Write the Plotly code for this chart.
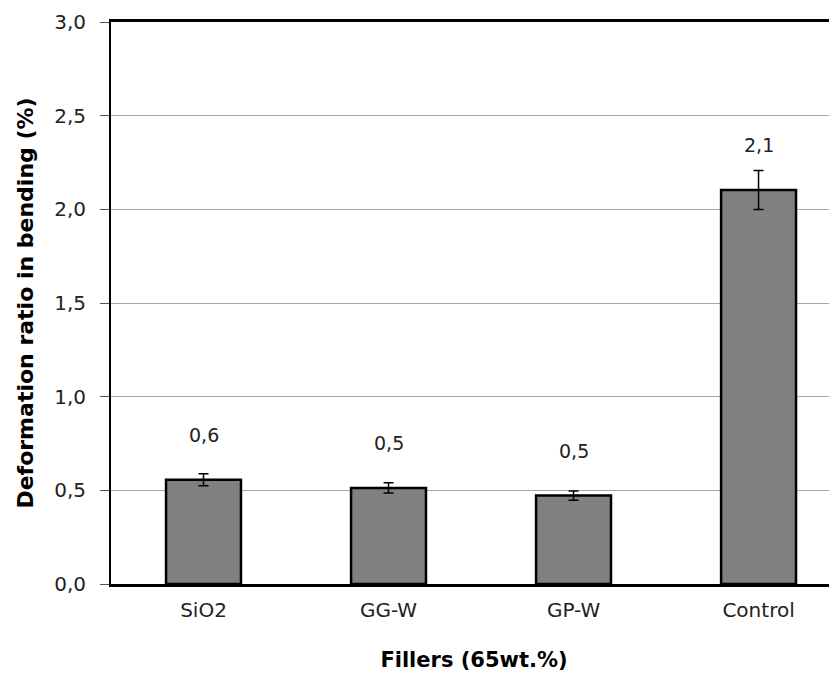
import plotly.graph_objects as go

categories = ["SiO2", "GG-W", "GP-W", "Control"]
values = [0.556, 0.513, 0.472, 2.103]
errors = [0.032, 0.027, 0.025, 0.104]
labels = ["0,6", "0,5", "0,5", "2,1"]
y_ticks = [0.0, 0.5, 1.0, 1.5, 2.0, 2.5, 3.0]

xpos = list(range(len(categories)))

fig = go.Figure()
fig.add_trace(go.Bar(
    x=xpos, y=values, width=0.405,
    marker=dict(color="#808080", line=dict(color="black", width=2.5)),
    error_y=dict(type="data", array=errors, color="black", thickness=1.5, width=5),
    showlegend=False,
))

for x, v, t in zip(xpos, values, labels):
    fig.add_annotation(x=x, y=v, text=t, showarrow=False, yshift=45,
                       yanchor="middle", font=dict(family="DejaVu Sans", size=19, color="#222"))

fig.update_layout(
    width=829, height=665,
    margin=dict(l=103, r=0, t=14, b=89),
    paper_bgcolor="white", plot_bgcolor="white",
    separators=",.",
    font=dict(family="DejaVu Sans", size=19, color="#222"),
)
fig.update_xaxes(
    range=[-0.5, 3.424], tickvals=xpos, ticktext=categories,
    showline=True, linecolor="black", linewidth=3, mirror=True,
    showgrid=False, ticks="", zeroline=False,
    ticklabelstandoff=6,
    tickfont=dict(family="DejaVu Sans", size=20, color="#222"),
    title=dict(text="<b>Fillers (65wt.%)</b>", font=dict(family="DejaVu Sans", size=21, color="black"), standoff=32),
)
fig.update_yaxes(
    range=[0, 3.0], tickvals=y_ticks, tickformat=".1f",
    showline=True, linecolor="black", linewidth=2,
    showgrid=True, gridcolor="#a6a6a6", gridwidth=1,
    ticks="outside", ticklen=9, tickcolor="#555", zeroline=False,
    ticklabelstandoff=10,
    tickfont=dict(family="DejaVu Sans", size=20, color="#222"),
    title=dict(text="<b>Deformation ratio in bending (%)</b>", font=dict(family="DejaVu Sans", size=22, color="black"), standoff=14),
)

fig.write_html("out.html")
